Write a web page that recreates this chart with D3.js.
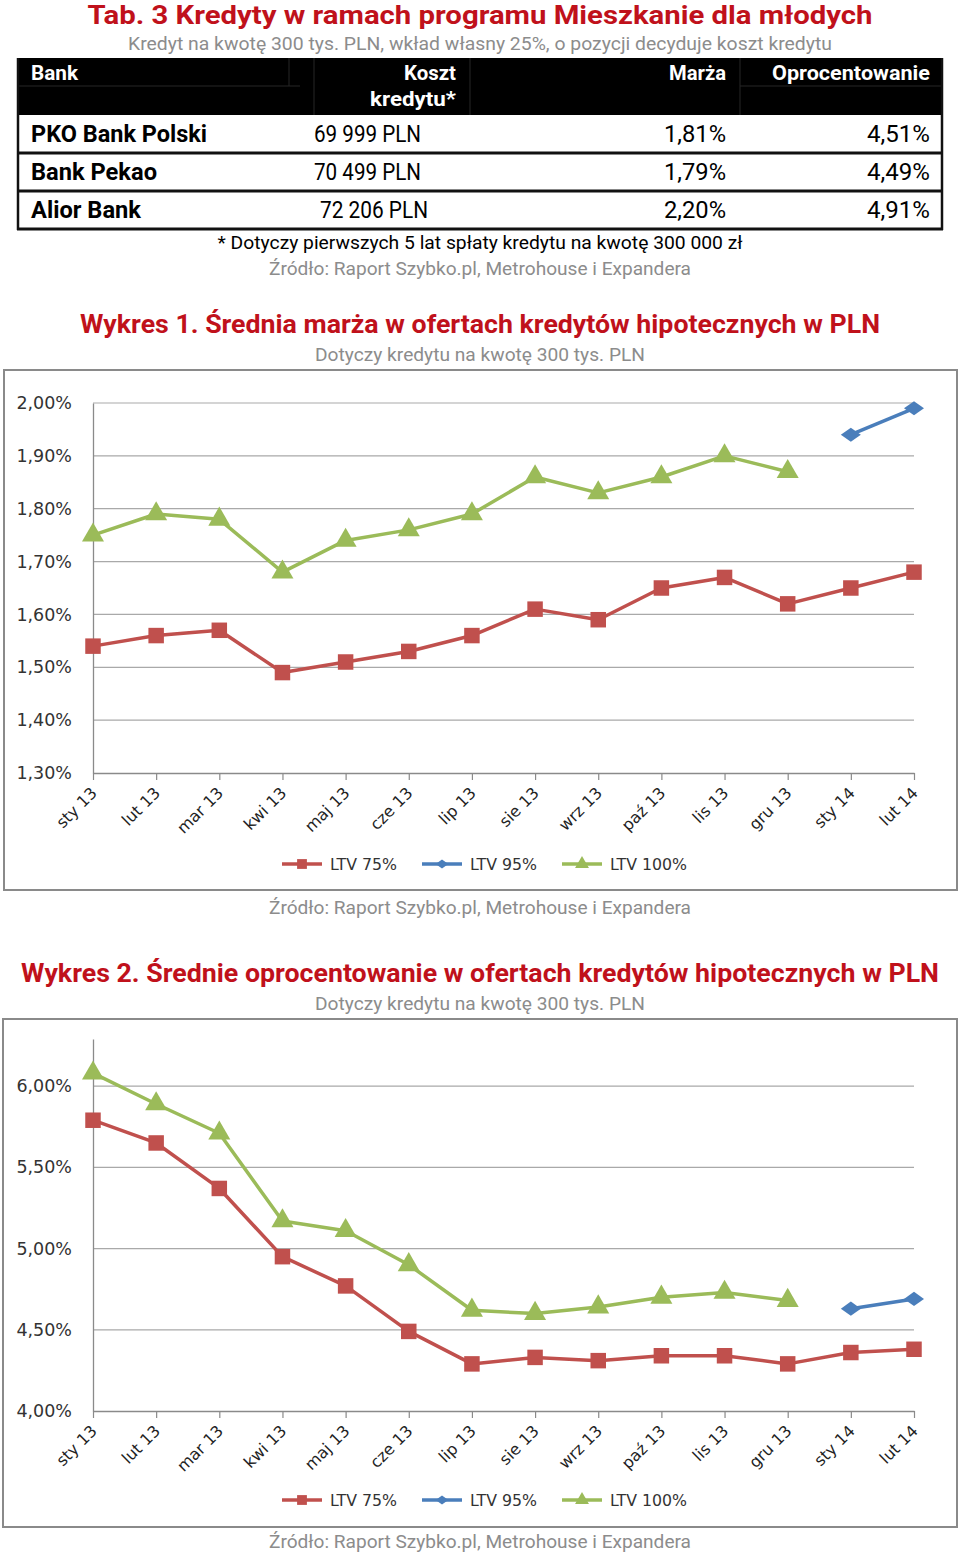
<!DOCTYPE html>
<html><head><meta charset="utf-8">
<script src="https://cdn.jsdelivr.net/npm/d3@7"></script>
<style>body{margin:0;background:#fff}svg{display:block}</style>
</head><body>
<svg id="c" width="960" height="1555"></svg>
<script>
// ---------- data ----------
const tableHeaders = ["Bank", "Koszt", "kredytu*", "Marża", "Oprocentowanie"];
const banks = ["PKO Bank Polski", "Bank Pekao", "Alior Bank"];
const kosztKredytu = ["69 999 PLN", "70 499 PLN", "72 206 PLN"];
const marzaBank = ["1,81%", "1,79%", "2,20%"];
const oprocBank = ["4,51%", "4,49%", "4,91%"];

const months = ["sty 13","lut 13","mar 13","kwi 13","maj 13","cze 13","lip 13","sie 13","wrz 13","paź 13","lis 13","gru 13","sty 14","lut 14"];
const seriesNames = ["LTV 75%", "LTV 95%", "LTV 100%"];

const marzaLTV75  = [1.54,1.56,1.57,1.49,1.51,1.53,1.56,1.61,1.59,1.65,1.67,1.62,1.65,1.68];
const marzaLTV95  = [null,null,null,null,null,null,null,null,null,null,null,null,1.94,1.99];
const marzaLTV100 = [1.75,1.79,1.78,1.68,1.74,1.76,1.79,1.86,1.83,1.86,1.90,1.87,null,null];
const marzaTicks  = [1.3,1.4,1.5,1.6,1.7,1.8,1.9,2.0];

const oprocLTV75  = [5.79,5.65,5.37,4.95,4.77,4.49,4.29,4.33,4.31,4.34,4.34,4.29,4.36,4.38];
const oprocLTV95  = [null,null,null,null,null,null,null,null,null,null,null,null,4.63,4.69];
const oprocLTV100 = [6.08,5.89,5.71,5.17,5.11,4.90,4.62,4.60,4.64,4.70,4.73,4.68,null,null];
const oprocTicks  = [4.0,4.5,5.0,5.5,6.0];

// ---------- styles ----------
const RED_T = "#c0111b", GRAY_T = "#8c8c8c";
const COLORS = ["#c0504d", "#4a7ebb", "#9bbb59"];
const SHAPES = [d3.symbolSquare, d3.symbolSquare, d3.symbolTriangle];
const SIZES = [240, 110, 210];
const SHAPE_TF = ["", " rotate(45) scale(1.0)", ""];
const SHAPE_SC = ["", "scale(1.35,0.95) ", ""];
const svg = d3.select("#c");
const fmtPct = (d, dec) => d.toFixed(dec).replace(".", ",") + "%";

function txt(x, y, s, o) {
  const t = svg.append("text").attr("x", x).attr("y", y).text(s)
    .attr("font-family", o.family || "Roboto, 'Liberation Sans', sans-serif")
    .attr("font-size", o.size).attr("fill", o.fill || "#000")
    .attr("font-weight", o.weight || "normal")
    .attr("text-anchor", o.anchor || "start");
  if (o.len) t.attr("textLength", o.len).attr("lengthAdjust", "spacingAndGlyphs");
  return t;
}

// ---------- header ----------
txt(480, 24, "Tab. 3 Kredyty w ramach programu Mieszkanie dla młodych", {size: 25, weight: "bold", fill: RED_T, anchor: "middle", len: 785});
txt(480, 50, "Kredyt na kwotę 300 tys. PLN, wkład własny 25%, o pozycji decyduje koszt kredytu", {size: 19, fill: GRAY_T, anchor: "middle", len: 704});

// ---------- table ----------
const tX0 = 17, tX1 = 943, tY0 = 58, hdrY1 = 115, rowH = 38;
svg.append("rect").attr("x", tX0).attr("y", tY0).attr("width", tX1 - tX0).attr("height", hdrY1 - tY0).attr("fill", "#000");
[[289, tY0, 289, 86], [314, tY0, 314, hdrY1], [470, tY0, 470, hdrY1], [740, tY0, 740, hdrY1], [tX0, 86, 300, 86], [740, 86, tX1, 86]]
  .forEach(l => svg.append("line").attr("x1", l[0]).attr("y1", l[1]).attr("x2", l[2]).attr("y2", l[3]).attr("stroke", "#262626").attr("stroke-width", 1));
const hdrFont = {size: 20, weight: "bold", fill: "#fff"};
txt(31, 80, tableHeaders[0], Object.assign({len: 47}, hdrFont));
txt(456, 80, tableHeaders[1], Object.assign({anchor: "end", len: 52}, hdrFont));
txt(456, 106, tableHeaders[2], Object.assign({anchor: "end", len: 86}, hdrFont));
txt(726, 80, tableHeaders[3], Object.assign({anchor: "end", len: 57}, hdrFont));
txt(930, 80, tableHeaders[4], Object.assign({anchor: "end", len: 158}, hdrFont));

const bankLen = [176, 126, 110], kosztLen = [107, 107, 108];
const rowY = d3.scaleBand().domain(banks).range([hdrY1, hdrY1 + rowH * banks.length]);
banks.forEach((b, i) => {
  const y = rowY(b), cy = y + rowY.bandwidth() / 2 + 8;
  txt(31, cy, b, {size: 23, weight: "bold", len: bankLen[i]});
  txt(i === 2 ? 320 : 314, cy, kosztKredytu[i], {size: 23, len: kosztLen[i]});
  txt(726, cy, marzaBank[i], {size: 23, anchor: "end", len: 62});
  txt(930, cy, oprocBank[i], {size: 23, anchor: "end", len: 63});
  svg.append("line").attr("x1", tX0).attr("x2", tX1).attr("y1", y + rowY.bandwidth()).attr("y2", y + rowY.bandwidth())
    .attr("stroke", "#111").attr("stroke-width", 3);
});
svg.append("line").attr("x1", tX0 + 1).attr("x2", tX0 + 1).attr("y1", tY0).attr("y2", hdrY1 + rowH * 3 + 1).attr("stroke", "#111").attr("stroke-width", 2.5);
svg.append("line").attr("x1", tX1 - 1).attr("x2", tX1 - 1).attr("y1", tY0).attr("y2", hdrY1 + rowH * 3 + 1).attr("stroke", "#111").attr("stroke-width", 2.5);

txt(480, 249, "* Dotyczy pierwszych 5 lat spłaty kredytu na kwotę 300 000 zł", {size: 19, anchor: "middle", len: 525});
txt(480, 275, "Źródło: Raport Szybko.pl, Metrohouse i Expandera", {size: 19, fill: GRAY_T, anchor: "middle", len: 422});

// ---------- charts ----------
function marker(sel, si, k) {
  sel.attr("d", d3.symbol().type(SHAPES[si]).size(SIZES[si] * k)).attr("fill", COLORS[si]);
}

function drawChart(cfg) {
  const g = svg.append("g");
  g.append("rect").attr("x", cfg.box[0]).attr("y", cfg.box[1]).attr("width", cfg.box[2]).attr("height", cfg.box[3])
    .attr("fill", "#fff").attr("stroke", "#8a8a8a").attr("stroke-width", 2);
  const x = d3.scalePoint().domain(months).range([93, 914]).padding(0);
  const y = d3.scaleLinear().domain(cfg.domain).range(cfg.yRange);

  g.append("g").selectAll("line").data(cfg.ticks.slice(1)).join("line")
    .attr("x1", 93).attr("x2", 914).attr("y1", d => y(d)).attr("y2", d => y(d))
    .attr("stroke", "#a9a9a9").attr("stroke-width", 1.2);

  const yAx = g.append("g").attr("transform", "translate(93,0)")
    .call(d3.axisLeft(y).tickValues(cfg.ticks).tickSize(0).tickPadding(21).tickFormat(d => fmtPct(d, 2)));
  yAx.select(".domain").attr("stroke", "#8a8a8a").attr("stroke-width", 1.3);
  yAx.selectAll("text").attr("font-family", "'DejaVu Sans', Verdana, sans-serif").attr("font-size", 17.5).attr("fill", "#333");

  const y0 = cfg.yRange[0];
  const xAx = g.append("g").attr("transform", `translate(0,${y0})`)
    .call(d3.axisBottom(x).tickSize(7).tickSizeOuter(0).tickFormat(""));
  xAx.select(".domain").attr("stroke", "#8a8a8a").attr("stroke-width", 1.3);
  xAx.selectAll(".tick line").attr("stroke", "#8a8a8a").attr("stroke-width", 1.2);
  g.append("g").selectAll("text").data(months).join("text")
    .attr("transform", d => `translate(${x(d) + 5},${y0 + 21}) rotate(-45)`)
    .attr("text-anchor", "end").attr("font-family", "'DejaVu Sans', Verdana, sans-serif")
    .attr("font-size", 16).attr("fill", "#222").text(d => d);

  cfg.series.forEach((vals, si) => {
    const pts = months.map((m, i) => ({m, v: vals[i]}));
    g.append("path").datum(pts)
      .attr("d", d3.line().defined(d => d.v != null).x(d => x(d.m)).y(d => y(d.v)))
      .attr("fill", "none").attr("stroke", COLORS[si]).attr("stroke-width", 3.5).attr("stroke-linejoin", "round");
    g.append("g").selectAll("path").data(pts.filter(d => d.v != null)).join("path")
      .attr("transform", d => `translate(${x(d.m)},${y(d.v)}) ${SHAPE_SC[si]}${SHAPE_TF[si]}`)
      .call(marker, si, 1);
  });

  const lg = g.append("g").attr("transform", `translate(0,${cfg.legendY})`);
  const lx = [282, 422, 562], lw = [67, 67, 77];
  seriesNames.forEach((n, si) => {
    lg.append("line").attr("x1", lx[si]).attr("x2", lx[si] + 40).attr("stroke", COLORS[si]).attr("stroke-width", 3.5);
    lg.append("path").attr("transform", `translate(${lx[si] + 20},0) ${SHAPE_SC[si]}${SHAPE_TF[si]}`)
      .call(marker, si, 0.4);
    lg.append("text").attr("x", lx[si] + 48).attr("y", 6).text(n)
      .attr("font-family", "'DejaVu Sans', Verdana, sans-serif").attr("font-size", 15).attr("fill", "#333")
      .attr("textLength", lw[si]).attr("lengthAdjust", "spacingAndGlyphs");
  });
}

txt(480, 333, "Wykres 1. Średnia marża w ofertach kredytów hipotecznych w PLN", {size: 25, weight: "bold", fill: RED_T, anchor: "middle", len: 800});
txt(480, 361, "Dotyczy kredytu na kwotę 300 tys. PLN", {size: 19, fill: GRAY_T, anchor: "middle", len: 330});
drawChart({box: [4, 370, 953, 520], domain: [1.3, 2.0], yRange: [773, 403], ticks: marzaTicks,
  series: [marzaLTV75, marzaLTV95, marzaLTV100], legendY: 864});
txt(480, 914, "Źródło: Raport Szybko.pl, Metrohouse i Expandera", {size: 19, fill: GRAY_T, anchor: "middle", len: 422});

txt(480, 982, "Wykres 2. Średnie oprocentowanie w ofertach kredytów hipotecznych w PLN", {size: 25, weight: "bold", fill: RED_T, anchor: "middle", len: 918});
txt(480, 1010, "Dotyczy kredytu na kwotę 300 tys. PLN", {size: 19, fill: GRAY_T, anchor: "middle", len: 330});
drawChart({box: [3, 1019, 954, 508], domain: [4.0, 6.29], yRange: [1411, 1039], ticks: oprocTicks,
  series: [oprocLTV75, oprocLTV95, oprocLTV100], legendY: 1500});
txt(480, 1548, "Źródło: Raport Szybko.pl, Metrohouse i Expandera", {size: 19, fill: GRAY_T, anchor: "middle", len: 422});
</script>
</body></html>
